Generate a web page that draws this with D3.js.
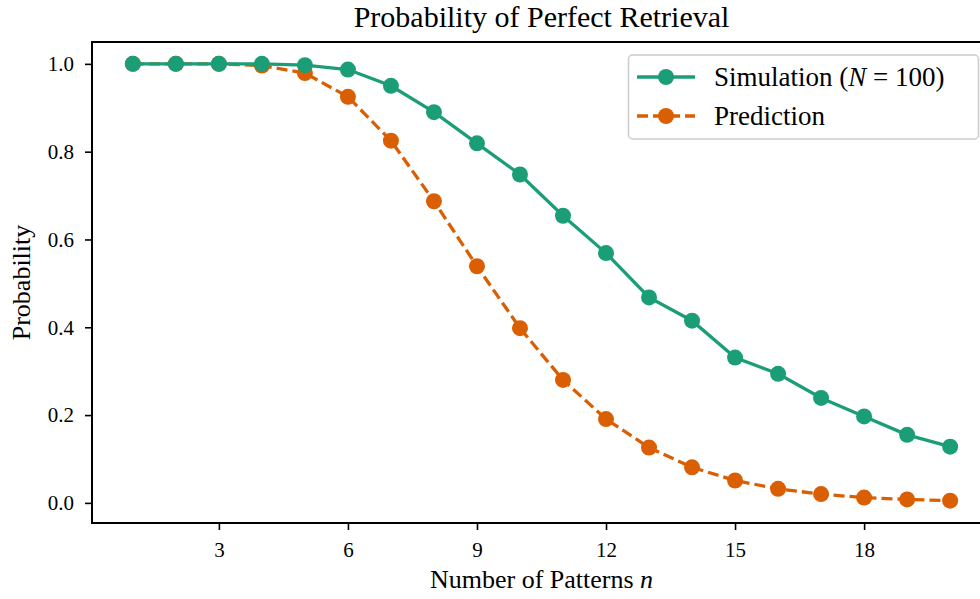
<!DOCTYPE html>
<html>
<head>
<meta charset="utf-8">
<script src="https://cdn.jsdelivr.net/npm/d3@7"></script>
<style>
  html, body { margin: 0; padding: 0; background: #fff; }
  svg { display: block; }
  text { font-family: "Liberation Serif", "DejaVu Serif", serif; fill: #000; }
</style>
</head>
<body>
<svg id="chart" width="980" height="599"></svg>
<script>
const patterns = [1,2,3,4,5,6,7,8,9,10,11,12,13,14,15,16,17,18,19,20];
const simulation = [1.0,1.0,1.0,1.0,0.997,0.987,0.950,0.890,0.819,0.748,0.654,0.569,0.468,0.415,0.331,0.294,0.239,0.197,0.155,0.128];
const prediction = [1.0,1.0,1.0,0.996,0.979,0.925,0.825,0.687,0.539,0.398,0.280,0.191,0.126,0.081,0.051,0.032,0.020,0.012,0.008,0.005];
const xTicks = [3,6,9,12,15,18];
const yTicks = [0.0,0.2,0.4,0.6,0.8,1.0];
const colors = { sim: "#1b9e77", pred: "#d95f02" };

const svg = d3.select("#chart");
const mLeft = 92, mRight = 991, mTop = 42, mBottom = 523;
const lw = 3.3, mr = 8;

const x = d3.scaleLinear().domain([0.05, 20.95]).range([mLeft, mRight]);
const y = d3.scaleLinear().domain([-0.0458, 1.0498]).range([mBottom, mTop]);

// title
svg.append("text").attr("x", (mLeft + mRight) / 2).attr("y", 27)
  .attr("text-anchor", "middle").attr("font-size", 30).text("Probability of Perfect Retrieval");

// axes
const xAxis = svg.append("g").attr("transform", `translate(0,${mBottom})`)
  .call(d3.axisBottom(x).tickValues(xTicks).tickSize(7).tickPadding(12).tickFormat(d3.format("d")));
const yAxis = svg.append("g").attr("transform", `translate(${mLeft},0)`)
  .call(d3.axisLeft(y).tickValues(yTicks).tickSize(7).tickPadding(11).tickFormat(d3.format(".1f")));
[xAxis, yAxis].forEach(g => {
  g.attr("font-size", 21).attr("font-family", "Liberation Serif, serif");
  g.select(".domain").remove();
  g.selectAll(".tick line").attr("stroke", "#000").attr("stroke-width", 1.6);
  g.selectAll(".tick text").attr("font-size", 21);
});

// lines
const line = d3.line().x((d, i) => x(patterns[i])).y(d => y(d));
const plot = svg.append("g");
plot.append("path").datum(prediction).attr("d", line).attr("fill", "none")
  .attr("stroke", colors.pred).attr("stroke-width", lw).attr("stroke-dasharray", "11,5");
plot.selectAll("circle.pred").data(prediction).join("circle").attr("class", "pred")
  .attr("cx", (d, i) => x(patterns[i])).attr("cy", d => y(d)).attr("r", mr).attr("fill", colors.pred);
plot.append("path").datum(simulation).attr("d", line).attr("fill", "none")
  .attr("stroke", colors.sim).attr("stroke-width", lw);
plot.selectAll("circle.sim").data(simulation).join("circle").attr("class", "sim")
  .attr("cx", (d, i) => x(patterns[i])).attr("cy", d => y(d)).attr("r", mr).attr("fill", colors.sim);

// spines
svg.append("rect").attr("x", mLeft).attr("y", mTop).attr("width", mRight - mLeft).attr("height", mBottom - mTop)
  .attr("fill", "none").attr("stroke", "#000").attr("stroke-width", 2);

// axis labels
svg.append("text").attr("x", (mLeft + mRight) / 2).attr("y", 588).attr("text-anchor", "middle")
  .attr("font-size", 26)
  .call(t => { t.append("tspan").text("Number of Patterns "); t.append("tspan").attr("font-style", "italic").text("n"); });
svg.append("text").attr("transform", `translate(30,${(mTop + mBottom) / 2}) rotate(-90)`)
  .attr("text-anchor", "middle").attr("font-size", 26).text("Probability");

// legend
const lg = svg.append("g");
lg.append("rect").attr("x", 628.5).attr("y", 55).attr("width", 350).attr("height", 84).attr("rx", 4)
  .attr("fill", "#fff").attr("fill-opacity", 0.8).attr("stroke", "#cccccc").attr("stroke-width", 1.5);
const entries = [
  { key: "sim", ly: 77, dash: null, label: t => {
      t.append("tspan").text("Simulation (");
      t.append("tspan").attr("font-style", "italic").text("N");
      t.append("tspan").text(" = 100)"); } },
  { key: "pred", ly: 116, dash: "11,5", label: t => t.text("Prediction") }
];
entries.forEach(e => {
  lg.append("line").attr("x1", 637).attr("x2", 695).attr("y1", e.ly).attr("y2", e.ly)
    .attr("stroke", colors[e.key]).attr("stroke-width", lw).attr("stroke-dasharray", e.dash);
  lg.append("circle").attr("cx", 666).attr("cy", e.ly).attr("r", mr).attr("fill", colors[e.key]);
  lg.append("text").attr("x", 714).attr("y", e.ly + 8.5).attr("font-size", 27).call(e.label);
});
</script>
</body>
</html>
